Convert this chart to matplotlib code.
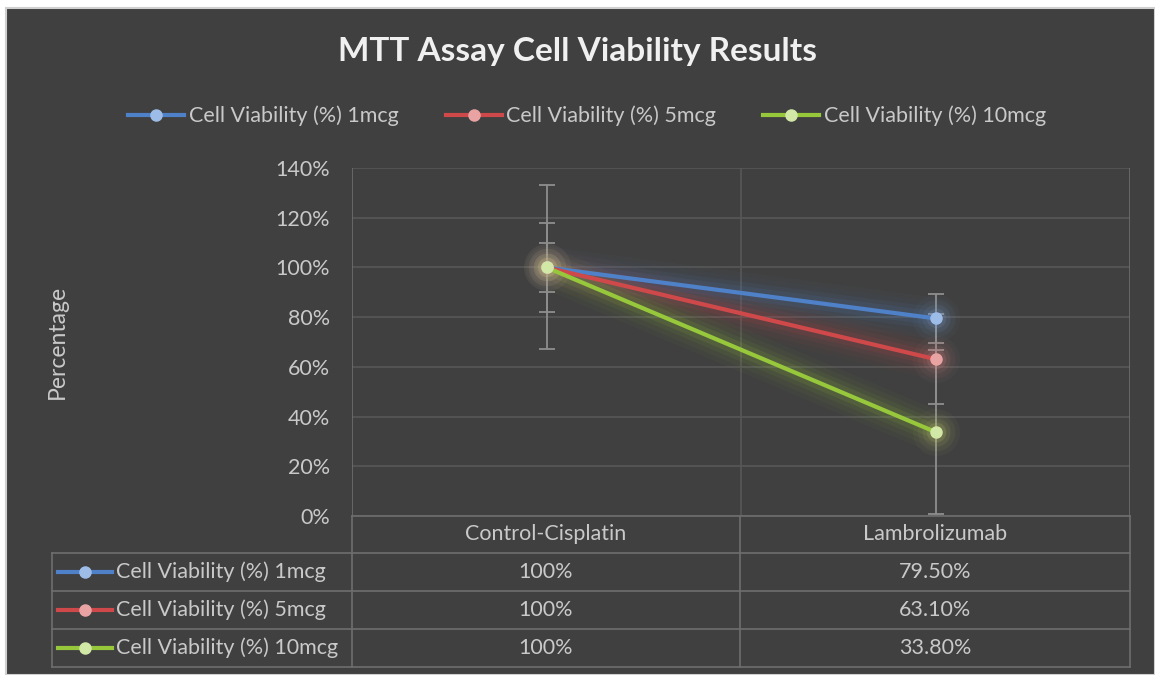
import matplotlib
matplotlib.use("Agg")
import matplotlib.pyplot as plt
from matplotlib.patches import Rectangle
from matplotlib.lines import Line2D

plt.rcParams['font.family'] = ['Lato', 'DejaVu Sans']

categories = ["Control-Cisplatin", "Lambrolizumab"]
series_names = ["Cell Viability (%) 1mcg", "Cell Viability (%) 5mcg", "Cell Viability (%) 10mcg"]
viab_1mcg = [1.00, 0.795]
viab_5mcg = [1.00, 0.631]
viab_10mcg = [1.00, 0.338]
err_1mcg = [0.10, 0.10]
err_5mcg = [0.18, 0.18]
err_10mcg = [0.33, 0.33]
yticks = [0, 0.2, 0.4, 0.6, 0.8, 1.0, 1.2, 1.4]

values = [viab_1mcg, viab_5mcg, viab_10mcg]
errors = [err_1mcg, err_5mcg, err_10mcg]
line_cols = ["#4f81c8", "#d0494a", "#97c83c"]
mark_cols = ["#9dbde8", "#eaa3a3", "#d2e8a6"]

BG = "#404040"
TXT = "#c9c9c9"
GRID = "#575757"
TBL = "#6e6e6e"
FS = 15.5

W, H = 1155, 675
fig = plt.figure(figsize=(W / 100, H / 100), dpi=100)
fig.patch.set_facecolor("white")


def fx(px):
    return px / W


def fy(py):
    return 1 - py / H


# dark chart background with a thin grey frame
fig.add_artist(Rectangle((fx(6), 0), 1 - fx(6), fy(8), transform=fig.transFigure,
                         facecolor=BG, edgecolor="#d0d0d0", lw=1.5, zorder=-5))

left, right, top, bot = 352, 1130, 168, 516
ax = fig.add_axes([fx(left), fy(bot), fx(right - left), (bot - top) / H])
ax.set_facecolor(BG)
ax.set_xlim(0, len(categories))
ax.set_ylim(0, 1.4)
ax.set_yticks(yticks)
ax.set_yticklabels([f"{t:.0%}" for t in yticks], color=TXT, fontsize=FS)
ax.tick_params(axis="y", length=0, pad=16)
ax.set_xticks([])
for t in yticks:
    ax.axhline(t, color=GRID, lw=1.2, zorder=0)
for i in range(len(categories) + 1):
    ax.axvline(i, color=GRID if 0 < i < len(categories) else TBL, lw=1.2, zorder=0)
for s in ax.spines.values():
    s.set_visible(False)

xs = [i + 0.5 for i in range(len(categories))]

# error bars
for v, e in zip(values, errors):
    ax.errorbar(xs, v, yerr=e, fmt="none", ecolor="#8e8e8e", elinewidth=1.3,
                capsize=6, capthick=1.3, zorder=2)

# glowing lines
for v, lc, mc in zip(values, line_cols, mark_cols):
    for w, a in [(30, 0.03), (23, 0.045), (16, 0.07), (10, 0.11)]:
        ax.plot(xs, v, color=lc, lw=w, alpha=a, solid_capstyle="round", zorder=3)
        ax.plot(xs, v, ls="none", marker="o", ms=w + 4, color=mc if lc != line_cols[2] else "#e8e08a",
                alpha=a, mew=0, zorder=3)
    ax.plot(xs, v, color=lc, lw=3, zorder=4)
    ax.plot(xs, v, ls="none", marker="o", ms=8, mfc=mc, mec=mc, zorder=5)

ax.set_ylabel("Percentage", color=TXT, fontsize=16.5, labelpad=0)
ax.yaxis.set_label_coords((68 - left) / (right - left), 0.5)

fig.text(0.5, fy(52), "MTT Assay Cell Viability Results", ha="center", va="center",
         color="#f0f0f0", fontsize=24, fontweight="bold")

handles = [Line2D([], [], color=lc, lw=3, marker="o", ms=8, mfc=mc, mec=mc)
           for lc, mc in zip(line_cols, mark_cols)]
fig.legend(handles, series_names, loc="center", bbox_to_anchor=(fx(587), fy(116)), ncol=3,
           frameon=False, fontsize=FS, labelcolor=TXT, handlelength=2.6,
           handletextpad=0.2, columnspacing=2.2)

# data table below the axes
rows_y = [516, 553, 591, 629, 667]
tbl_left, col_mid = 52, 740


def hline(y, x0, x1):
    fig.add_artist(Line2D([fx(x0), fx(x1)], [fy(y), fy(y)], color=TBL, lw=1.2,
                          transform=fig.transFigure))


def vline(x, y0, y1):
    fig.add_artist(Line2D([fx(x), fx(x)], [fy(y0), fy(y1)], color=TBL, lw=1.2,
                          transform=fig.transFigure))


hline(rows_y[0], left, right)
for y in rows_y[1:]:
    hline(y, tbl_left, right)
vline(left, rows_y[0], rows_y[-1])
vline(col_mid, rows_y[0], rows_y[-1])
vline(right, rows_y[0], rows_y[-1])
vline(tbl_left, rows_y[1], rows_y[-1])

col_centers = [(left + col_mid) / 2, (col_mid + right) / 2]
for c, cx in zip(categories, col_centers):
    fig.text(fx(cx), fy((rows_y[0] + rows_y[1]) / 2), c, ha="center", va="center",
             color=TXT, fontsize=FS)

for r, (name, v, lc, mc) in enumerate(zip(series_names, values, line_cols, mark_cols)):
    yc = fy((rows_y[r + 1] + rows_y[r + 2]) / 2)
    fig.add_artist(Line2D([fx(58), fx(112)], [yc, yc], color=lc, lw=3,
                          transform=fig.transFigure))
    fig.add_artist(Line2D([fx(85)], [yc], ls="none", marker="o", ms=8, mfc=mc, mec=mc,
                          transform=fig.transFigure))
    fig.text(fx(116), yc, name, ha="left", va="center", color=TXT, fontsize=FS)
    for val, cx in zip(v, col_centers):
        lab = f"{val:.0%}" if val == 1 else f"{val:.2%}"
        fig.text(fx(cx), yc, lab, ha="center", va="center", color=TXT, fontsize=FS)

fig.savefig("out.png", dpi=100, facecolor=fig.get_facecolor())
